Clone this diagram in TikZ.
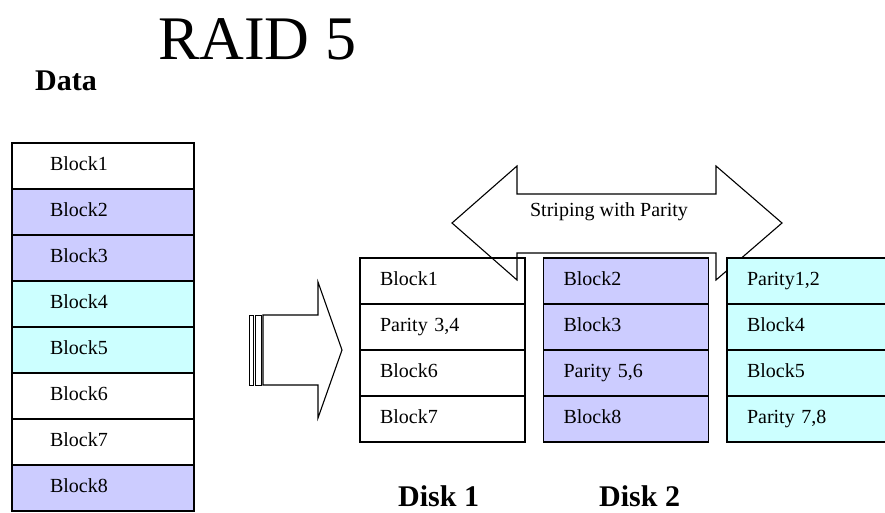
\documentclass[tikz,border=0pt]{standalone}
\usepackage{fontspec}
\setmainfont{Liberation Serif}
\usepackage{xcolor}
\usetikzlibrary{positioning}
\definecolor{blockblue}{HTML}{CCCCFF}
\definecolor{blockcyan}{HTML}{CCFFFF}
\tikzset{
    cell/.style={draw, line width=1.1pt, minimum height=46pt, inner ysep=0pt, align=left, font=\fontsize{20}{24}\selectfont, execute at begin node=\strut},
    datacell/.style={cell, inner xsep=38pt, text width=106pt},
    diskcell/.style={cell, inner xsep=20pt, text width=125pt},
    bb/.style={fill=blockblue},
    bc/.style={fill=blockcyan},
    fatarrow/.style={draw, line width=1.1pt, line join=miter, fill=white},
    biglabel/.style={anchor=base west, inner sep=0pt, font=\fontsize{30}{34}\selectfont\bfseries}
}

\begin{document}
\begin{tikzpicture}[x=1pt,y=-1pt]
\path[use as bounding box] (0,0) rectangle (885,513);
\clip (0,0) rectangle (885,513);
% title and caption
\node[anchor=base west, inner sep=0pt, font=\fontsize{62}{70}\selectfont] (title) at (158,60) {RAID 5};
\node[biglabel] (data) at (35,91) {Data};
% data column
\node[datacell] (d1) at (103,166) {Block1};
\node[datacell,bb] (d2) at (103,212) {Block2};
\node[datacell,bb] (d3) at (103,258) {Block3};
\node[datacell,bc] (d4) at (103,304) {Block4};
\node[datacell,bc] (d5) at (103,350) {Block5};
\node[datacell] (d6) at (103,396) {Block6};
\node[datacell] (d7) at (103,442) {Block7};
\node[datacell,bb] (d8) at (103,488) {Block8};
% fat arrow to the disks
\coordinate (fa1) at (263,315); \coordinate (fa2) at (318,315); \coordinate (fa3) at (318,282);
\coordinate (fatip) at (342,350);
\coordinate (fa4) at (318,418); \coordinate (fa5) at (318,385); \coordinate (fa6) at (263,385);
\draw[fatarrow] (fa1) -- (fa2) -- (fa3) -- (fatip) -- (fa4) -- (fa5) -- (fa6) -- cycle;
\draw[fatarrow, line width=0.9pt] (249,315) rectangle (253,385);
\draw[fatarrow, line width=0.9pt] (255,315) rectangle (261,385);
% striping arrow
\coordinate (ltip) at (452,223); \coordinate (rtip) at (782,223);
\draw[fatarrow] (ltip) -- (517,166) -- (517,194) -- (716,194) -- (716,166) -- (rtip)
    -- (716,280) -- (716,253) -- (517,253) -- (517,280) -- cycle;
\node[font=\fontsize{20}{24}\selectfont] (stripe) at (609,212) {Striping with Parity};
% disk 1
\node[diskcell] (a1) at (442.5,281) {Block1};
\node[diskcell] (a2) at (442.5,327) {Parity 3,4};
\node[diskcell] (a3) at (442.5,373) {Block6};
\node[diskcell] (a4) at (442.5,419) {Block7};
% disk 2
\node[diskcell,bb] (b1) at (626,281) {Block2};
\node[diskcell,bb] (b2) at (626,327) {Block3};
\node[diskcell,bb] (b3) at (626,373) {Parity 5,6};
\node[diskcell,bb] (b4) at (626,419) {Block8};
% disk 3
\node[diskcell,bc] (c1) at (809.5,281) {Parity1,2};
\node[diskcell,bc] (c2) at (809.5,327) {Block4};
\node[diskcell,bc] (c3) at (809.5,373) {Block5};
\node[diskcell,bc] (c4) at (809.5,419) {Parity 7,8};
\node[biglabel] (disk1) at (398,506) {Disk 1};
\node[biglabel] (disk2) at (599,506) {Disk 2};
\end{tikzpicture}
\end{document}
